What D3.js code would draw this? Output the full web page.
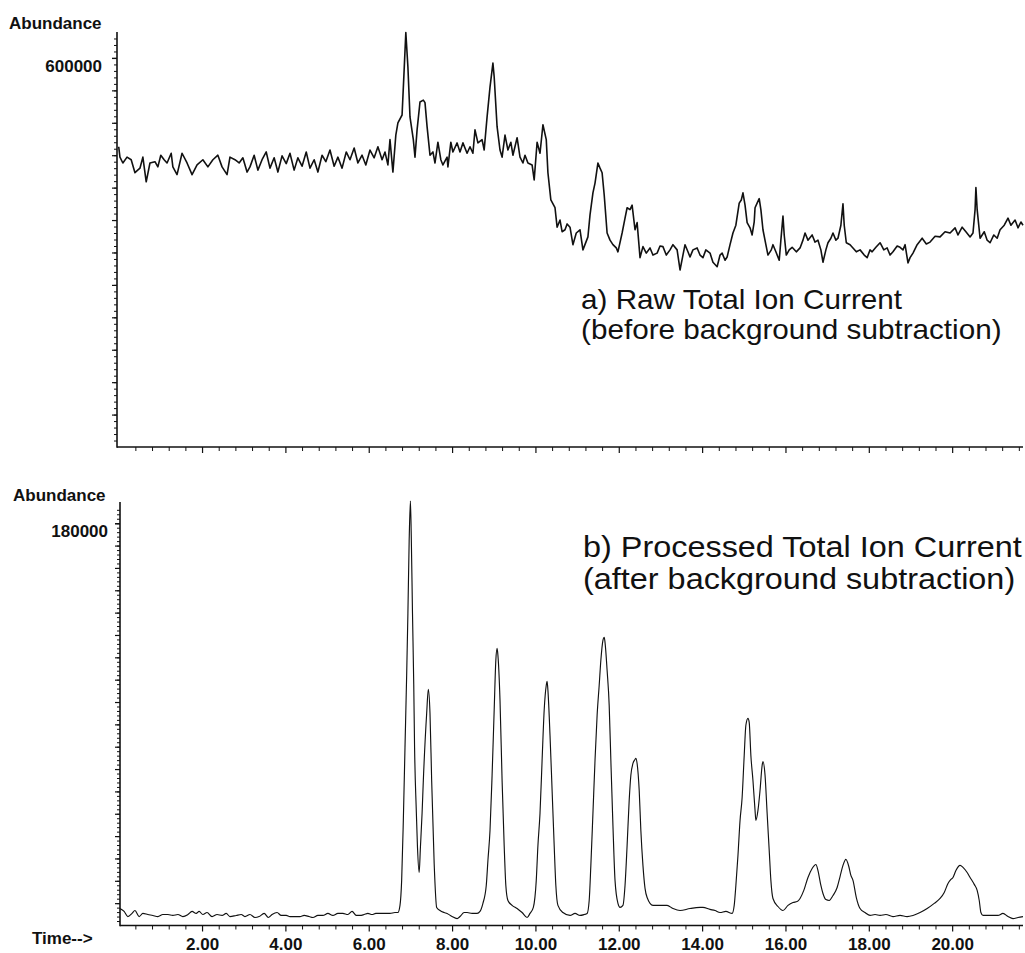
<!DOCTYPE html>
<html>
<head>
<meta charset="utf-8">
<script src="https://cdn.jsdelivr.net/npm/d3@7"></script>
<style>
  html, body { margin: 0; padding: 0; background: #ffffff; }
  svg { display: block; }
  text { font-family: "Liberation Sans", Arial, Helvetica, sans-serif; fill: #111; }
</style>
</head>
<body>
<svg id="chart" width="1025" height="953"></svg>
<script>
// ---- Raw total ion current (retention time in minutes, abundance in counts) ----
const rawTime = [
  0.00,0.03,0.10,0.20,0.30,0.39,0.51,0.58,0.66,0.75,
  0.87,0.94,1.01,1.09,1.16,1.26,1.30,1.40,1.52,1.64,
  1.76,1.88,2.02,2.14,2.26,2.38,2.48,2.60,2.67,2.79,
  2.89,2.98,3.08,3.15,3.25,3.34,3.44,3.54,3.63,3.73,
  3.82,3.92,4.02,4.11,4.21,4.30,4.40,4.50,4.59,4.69,
  4.78,4.88,4.97,5.07,5.17,5.26,5.36,5.46,5.55,5.65,
  5.74,5.84,5.93,6.03,6.13,6.22,6.32,6.39,6.46,6.51,
  6.58,6.65,6.70,6.80,6.85,6.89,6.94,6.99,7.07,7.11,
  7.16,7.23,7.31,7.35,7.40,7.47,7.54,7.59,7.66,7.73,
  7.78,7.88,7.90,7.97,8.02,8.12,8.19,8.26,8.36,8.43,
  8.50,8.55,8.62,8.72,8.77,8.84,8.91,8.98,9.01,9.08,
  9.15,9.20,9.27,9.34,9.41,9.46,9.56,9.63,9.70,9.75,
  9.82,9.92,9.97,10.04,10.11,10.18,10.26,10.30,10.37,10.47,
  10.52,10.59,10.64,10.71,10.76,10.83,10.90,10.98,11.07,11.14,
  11.26,11.31,11.38,11.43,11.50,11.55,11.60,11.65,11.72,11.79,
  11.86,11.94,11.98,12.08,12.15,12.20,12.27,12.32,12.39,12.44,
  12.51,12.58,12.66,12.75,12.82,12.92,12.99,13.06,13.14,13.23,
  13.30,13.40,13.47,13.54,13.59,13.66,13.71,13.78,13.88,13.95,
  14.02,14.09,14.19,14.26,14.36,14.43,14.48,14.55,14.60,14.67,
  14.74,14.81,14.89,14.94,14.98,15.03,15.08,15.15,15.20,15.25,
  15.27,15.32,15.37,15.41,15.46,15.53,15.58,15.66,15.70,15.77,
  15.85,15.89,15.94,15.97,16.02,16.09,16.16,16.26,16.35,16.42,
  16.47,16.54,16.64,16.71,16.78,16.85,16.90,16.97,17.02,17.09,
  17.14,17.21,17.26,17.33,17.38,17.41,17.46,17.55,17.62,17.70,
  17.79,17.89,17.96,18.03,18.08,18.17,18.27,18.36,18.44,18.51,
  18.58,18.68,18.75,18.82,18.87,18.94,18.99,19.06,19.16,19.28,
  19.38,19.47,19.59,19.71,19.83,19.95,20.07,20.14,20.24,20.33,
  20.43,20.50,20.55,20.57,20.60,20.67,20.77,20.84,20.91,21.00,
  21.08,21.15,21.25,21.34,21.41,21.51,21.58,21.65,21.70
];
const rawAbundance = [
  463e3,447e3,438e3,447e3,443e3,423e3,430e3,447e3,409e3,438e3,
  440e3,432e3,450e3,443e3,438e3,453e3,432e3,420e3,453e3,438e3,
  420e3,435e3,443e3,432e3,443e3,450e3,432e3,420e3,447e3,443e3,
  438e3,446e3,424e3,432e3,450e3,427e3,443e3,455e3,430e3,446e3,
  424e3,449e3,437e3,453e3,427e3,446e3,433e3,455e3,430e3,443e3,
  424e3,450e3,440e3,458e3,433e3,447e3,430e3,455e3,443e3,461e3,
  438e3,450e3,435e3,458e3,446e3,463e3,443e3,455e3,435e3,474e3,
  424e3,481e3,500e3,512e3,582e3,639e3,586e3,509e3,474e3,447e3,
  489e3,532e3,535e3,531e3,494e3,450e3,455e3,438e3,470e3,443e3,
  435e3,447e3,432e3,470e3,455e3,469e3,455e3,469e3,453e3,463e3,
  453e3,489e3,469e3,474e3,458e3,509e3,555e3,592e3,571e3,494e3,
  458e3,447e3,481e3,458e3,470e3,450e3,477e3,447e3,438e3,450e3,
  438e3,435e3,412e3,470e3,453e3,497e3,474e3,423e3,381e3,369e3,
  339e3,350e3,332e3,335e3,344e3,339e3,312e3,330e3,335e3,304e3,
  324e3,358e3,392e3,407e3,438e3,430e3,423e3,389e3,330e3,319e3,
  312e3,307e3,301e3,330e3,353e3,369e3,366e3,373e3,335e3,346e3,
  292e3,309e3,299e3,307e3,296e3,299e3,310e3,309e3,296e3,304e3,
  312e3,304e3,273e3,296e3,312e3,301e3,293e3,304e3,307e3,296e3,
  292e3,304e3,299e3,285e3,278e3,296e3,299e3,288e3,293e3,312e3,
  330e3,342e3,376e3,381e3,392e3,373e3,346e3,338e3,327e3,347e3,
  369e3,376e3,383e3,366e3,335e3,312e3,296e3,304e3,312e3,301e3,
  288e3,319e3,356e3,327e3,296e3,304e3,308e3,301e3,307e3,319e3,
  330e3,319e3,327e3,316e3,319e3,304e3,285e3,304e3,315e3,322e3,
  330e3,319e3,322e3,342e3,375e3,342e3,315e3,312e3,307e3,301e3,
  304e3,296e3,292e3,304e3,301e3,308e3,315e3,304e3,307e3,296e3,
  301e3,310e3,308e3,304e3,312e3,284e3,292e3,299e3,312e3,322e3,
  313e3,316e3,325e3,324e3,332e3,330e3,338e3,327e3,339e3,332e3,
  324e3,330e3,366e3,400e3,366e3,322e3,332e3,319e3,315e3,327e3,
  322e3,335e3,342e3,353e3,342e3,350e3,338e3,347e3,342e3
];

// ---- Processed total ion current (after background subtraction) ----
const procTime = [
  0.03,0.13,0.22,0.32,0.39,0.49,0.58,0.70,0.82,0.94,
  1.06,1.18,1.30,1.42,1.54,1.66,1.76,1.86,1.93,2.02,
  2.12,2.24,2.36,2.48,2.58,2.67,2.82,2.94,3.03,3.15,
  3.27,3.37,3.49,3.59,3.68,3.80,3.90,4.02,4.11,4.23,
  4.35,4.45,4.57,4.66,4.78,4.90,5.02,5.14,5.26,5.38,
  5.50,5.60,5.70,5.79,5.89,5.98,6.08,6.17,6.27,6.39,
  6.51,6.63,6.70,6.75,6.79,6.83,6.87,6.91,6.94,6.97,
  7.00,7.02,7.05,7.08,7.10,7.14,7.17,7.21,7.24,7.28,
  7.31,7.39,7.43,7.47,7.51,7.57,7.63,
  7.71,7.81,7.88,8.00,8.12,8.19,8.29,8.36,8.48,8.60,
  8.67,8.74,8.82,8.86,8.91,8.96,9.01,9.05,9.08,9.10,
  9.15,9.20,9.25,9.29,9.34,9.44,9.56,9.68,9.80,9.87,
  9.95,10.02,10.06,10.11,10.16,10.21,10.26,10.28,10.30,10.35,
  10.40,10.45,10.49,10.54,10.66,10.83,10.95,11.07,11.17,11.24,
  11.29,11.33,11.38,11.43,11.48,11.53,11.57,11.62,11.65,11.67,
  11.72,11.77,11.81,11.86,11.91,11.98,12.03,12.10,12.15,12.20,
  12.25,12.29,12.34,12.39,12.41,12.44,12.49,12.53,12.58,12.63,
  12.68,12.82,12.99,13.16,13.30,13.47,13.71,13.95,14.02,14.19,
  14.31,14.43,14.57,14.72,14.77,14.81,14.86,14.91,14.96,15.01,
  15.05,15.10,15.13,15.17,15.22,15.27,15.29,15.34,15.39,15.44,
  15.46,15.51,15.56,15.61,15.65,15.70,15.82,15.94,16.06,16.18,
  16.28,16.35,16.44,16.54,16.64,16.73,16.78,16.85,16.90,16.97,
  17.05,17.14,17.24,17.31,17.38,17.45,17.52,17.57,17.62,17.70,
  17.79,17.91,18.03,18.15,18.27,18.41,18.58,18.75,18.92,19.06,
  19.23,19.40,19.57,19.71,19.81,19.90,19.97,20.02,20.09,20.19,
  20.26,20.36,20.43,20.53,20.60,20.65,20.69,20.74,20.86,20.98,
  21.10,21.22,21.34,21.46,21.58,21.70
];
const procAbundance = [
  7600,6300,4000,5400,6700,4000,5400,4900,4500,4000,
  4900,4900,4500,4900,4000,4900,6300,5400,6300,4900,
  5800,4000,4900,4500,5400,4000,4500,4900,4000,4900,
  3600,4000,5400,3600,4900,5800,4500,4500,4000,4000,
  4000,4500,4000,3600,4500,4500,5400,4500,5400,5400,
  4900,6300,4500,4500,4900,5400,4900,5400,5400,5400,
  5400,5800,5800,9000,20200,47000,79700,112000,139700,172000,
  189900,175000,139700,108000,79700,52000,34900,23700,34900,50200,
  64900,94900,105700,94900,64900,27800,8100,
  6700,5800,5400,4000,3100,4000,5800,5800,5400,5400,
  6300,9900,17900,29100,42500,67200,96300,118700,124000,120900,
  100800,64900,35800,17900,11200,9000,7600,5800,3600,5400,
  8100,20200,35800,50200,73900,96300,107500,109300,105200,85100,
  60500,35800,17900,9000,5800,4500,5400,4500,4900,5400,
  11200,26900,50200,73900,94000,107500,118700,127600,129000,126700,
  114200,98500,73900,44800,20200,9900,8100,9000,17900,35800,
  56000,67200,72500,74300,74800,72500,60500,42500,26900,16600,
  12500,9000,9000,9000,7600,6700,7600,8100,8100,7200,
  6700,5800,6300,5400,9000,17900,31300,47000,57300,76100,
  89600,92700,90900,76100,64900,51500,47000,51500,60500,71600,
  73400,67200,50200,33600,20200,12100,8500,6700,9000,10300,
  10700,12100,15700,21500,25500,27300,24600,17900,14300,11600,
  11200,13400,17000,21900,26900,29600,26400,22400,20200,12500,
  7600,5800,4500,4900,4500,4900,4000,4500,4000,4500,
  5800,7600,9900,12100,14800,18800,20600,21500,24600,26900,
  26000,23700,21500,18400,15700,11200,5800,4500,4500,4500,
  4500,5400,4000,3100,3600,4000
];

// ---- Axis labels and annotations ----
const timeTickLabels = [2, 4, 6, 8, 10, 12, 14, 16, 18, 20];
const rawYTickLabels = [600000];
const procYTickLabels = [180000];
const rawNote = ["a) Raw Total Ion Current", "(before background subtraction)"];
const procNote = ["b) Processed Total Ion Current", "(after background subtraction)"];

// ---- Layout ----
const svg = d3.select("#chart");
svg.append("rect").attr("width", 1025).attr("height", 953).attr("fill", "#ffffff");

const x = d3.scaleLinear().domain([0, 21.7]).range([118.7, 1023]);

const panels = [
  {
    time: rawTime, values: rawAbundance,
    y: d3.scaleLinear().domain([0, 640000]).range([447, 32]),
    axisX: 117, yMinor: 10000, yMajor: 50000, yMax: 635000,
    labels: rawYTickLabels, labelPad: 10, strokeW: 1.6,
    titleXY: [9, 29], note: rawNote, noteXY: [581, 309], noteSize: 28, noteStretch: 1.06, noteGap: 30,
    curve: d3.curveLinear, tickLabels: false
  },
  {
    time: procTime, values: procAbundance,
    y: d3.scaleLinear().domain([0, 189500]).range([925.5, 502]),
    axisX: 120, yMinor: 2000, yMajor: 10000, yMax: 188000,
    labels: procYTickLabels, labelPad: 7, strokeW: 1.15,
    titleXY: [13, 501], note: procNote, noteXY: [583, 557], noteSize: 30, noteStretch: 1.08, noteGap: 32,
    curve: d3.curveMonotoneX, tickLabels: true
  }
];

const xMinorTicks = d3.range(0.4, 21.7, 0.4).filter(t => Math.abs(t / 2 - Math.round(t / 2)) > 1e-6);
const xMajorTicks = timeTickLabels;

panels.forEach(p => {
  const y = p.y;
  const baseY = y.range()[0];
  const g = svg.append("g");

  // x-axis line and ticks
  g.append("line")
    .attr("x1", p.axisX).attr("x2", 1023).attr("y1", baseY).attr("y2", baseY)
    .attr("stroke", "#111").attr("stroke-width", 1.6);

  const xMinorAxis = d3.axisBottom(x).tickValues(xMinorTicks).tickSize(4).tickFormat("");
  const gxm = g.append("g").attr("transform", `translate(0,${baseY})`).call(xMinorAxis);
  gxm.select(".domain").remove();

  const xMajorAxis = d3.axisBottom(x).tickValues(xMajorTicks).tickSize(6).tickPadding(6)
    .tickFormat(p.tickLabels ? d3.format(".2f") : "");
  const gxM = g.append("g").attr("transform", `translate(0,${baseY})`).call(xMajorAxis);
  gxM.select(".domain").remove();
  gxm.selectAll("line").attr("stroke", "#111").attr("stroke-width", 1);
  gxM.selectAll("line").attr("stroke", "#111").attr("stroke-width", 1.2);
  gxM.selectAll("text")
    .attr("font-size", 17).attr("font-weight", "bold").attr("fill", "#111")
    .attr("font-family", "'Liberation Sans', Arial, sans-serif");

  // y-axis line and ticks
  g.append("line")
    .attr("x1", p.axisX).attr("x2", p.axisX).attr("y1", y.range()[1]).attr("y2", baseY + 0.8)
    .attr("stroke", "#111").attr("stroke-width", 1.6);

  const yMinorTicks = d3.range(p.yMinor, p.yMax, p.yMinor);
  const yMinorAxis = d3.axisLeft(y).tickValues(yMinorTicks).tickSize(3).tickFormat("");
  const gym = g.append("g").attr("transform", `translate(${p.axisX},0)`).call(yMinorAxis);
  gym.select(".domain").remove();
  gym.selectAll("line").attr("stroke", "#111").attr("stroke-width", 1);

  const yMajorTicks = d3.range(p.yMajor, p.yMax, p.yMajor);
  const yMajorAxis = d3.axisLeft(y).tickValues(yMajorTicks).tickSize(5).tickFormat("");
  const gyM = g.append("g").attr("transform", `translate(${p.axisX},0)`).call(yMajorAxis);
  gyM.select(".domain").remove();
  gyM.selectAll("line").attr("stroke", "#111").attr("stroke-width", 1.2);

  // labelled abundance tick: label hangs just below its tick
  const yLabelAxis = d3.axisLeft(y).tickValues(p.labels).tickSize(5).tickPadding(p.labelPad)
    .tickFormat(d3.format("d"));
  const gyL = g.append("g").attr("transform", `translate(${p.axisX},0)`).call(yLabelAxis);
  gyL.select(".domain").remove();
  gyL.selectAll("line").attr("stroke", "#111").attr("stroke-width", 1.2);
  gyL.selectAll("text")
    .attr("dy", "0.77em")
    .attr("font-size", 17).attr("font-weight", "bold").attr("fill", "#111")
    .attr("font-family", "'Liberation Sans', Arial, sans-serif");

  // axis title
  g.append("text")
    .attr("x", p.titleXY[0]).attr("y", p.titleXY[1])
    .attr("font-size", 17).attr("font-weight", "bold")
    .text("Abundance");

  // trace
  const line = d3.line()
    .x((d, i) => x(p.time[i]))
    .y(d => y(d))
    .curve(p.curve);
  g.append("path")
    .datum(p.values)
    .attr("d", line)
    .attr("fill", "none")
    .attr("stroke", "#111")
    .attr("stroke-width", p.strokeW)
    .attr("stroke-linejoin", "round");

  // annotation, slightly widened like the instrument's plot font
  const note = g.append("text")
    .attr("transform", `translate(${p.noteXY[0]},${p.noteXY[1]}) scale(${p.noteStretch},1)`)
    .attr("font-size", p.noteSize);
  note.selectAll("tspan").data(p.note).join("tspan")
    .attr("x", 0)
    .attr("dy", (d, i) => i === 0 ? 0 : p.noteGap)
    .text(d => d);
});

// time axis caption
svg.append("text")
  .attr("x", 32).attr("y", 944)
  .attr("font-size", 17).attr("font-weight", "bold")
  .text("Time-->");
</script>
</body>
</html>
